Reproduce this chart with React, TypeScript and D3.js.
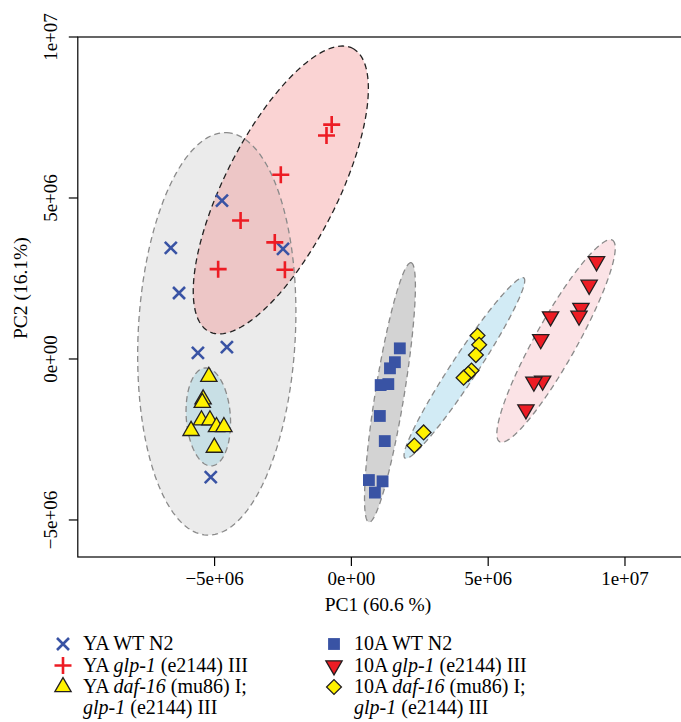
import * as d3 from 'd3';
import React from 'react';

const W = 681;
const H = 722;

// PCA scores, [PC1, PC2]
const yaWtN2 = [[-4.73e6, 4.92e6], [-6.6e6, 3.45e6], [-2.5e6, 3.42e6], [-6.3e6, 2.05e6], [-4.55e6, 0.37e6], [-5.61e6, 0.19e6], [-5.14e6, -3.67e6]];
const yaGlp1 = [[-0.72e6, 7.28e6], [-0.91e6, 6.94e6], [-2.58e6, 5.72e6], [-4.05e6, 4.3e6], [-2.8e6, 3.62e6], [-4.87e6, 2.79e6], [-2.43e6, 2.77e6]];
const yaDaf16 = [[-5.21e6, -0.55e6], [-5.42e6, -1.25e6], [-5.45e6, -1.36e6], [-5.48e6, -1.9e6], [-5.17e6, -1.9e6], [-4.93e6, -2.11e6], [-4.66e6, -2.11e6], [-5.86e6, -2.23e6], [-5.01e6, -2.75e6]];
const tenAWtN2 = [[1.77e6, 0.33e6], [1.59e6, -0.1e6], [1.41e6, -0.29e6], [1.35e6, -0.78e6], [1.07e6, -0.81e6], [1.04e6, -1.77e6], [1.22e6, -2.55e6], [0.64e6, -3.76e6], [1.14e6, -3.8e6], [0.86e6, -4.15e6]];
const tenAGlp1 = [[8.96e6, 3.03e6], [8.69e6, 2.3e6], [8.39e6, 1.58e6], [8.32e6, 1.34e6], [7.28e6, 1.32e6], [6.92e6, 0.61e6], [6.99e6, -0.68e6], [6.67e6, -0.71e6], [6.38e6, -1.57e6]];
const tenADaf16 = [[4.61e6, 0.73e6], [4.67e6, 0.44e6], [4.55e6, 0.12e6], [4.39e6, -0.36e6], [4.27e6, -0.46e6], [4.1e6, -0.58e6], [2.64e6, -2.28e6], [2.3e6, -2.69e6]];

// group ellipses: centre, half major axis vector, minor/major ratio
const ellipses = [
  { group: 'yaWt', cx: -4.92e6, cy: 0.78e6, ax: 0.365e6, ay: 6.25e6, ratio: 0.39 },
  { group: 'yaGlp', cx: -2.58e6, cy: 5.25e6, ax: 2.62e6, ay: 4.4e6, ratio: 0.355 },
  { group: 'yaDaf', cx: -5.23e6, cy: -1.8e6, ax: -0.12e6, ay: 1.52e6, ratio: 0.45 },
  { group: 'tenWt', cx: 1.41e6, cy: -1.04e6, ax: 0.77e6, ay: 4.03e6, ratio: 0.11 },
  { group: 'tenDaf', cx: 4.13e6, cy: -0.28e6, ax: 2.17e6, ay: 2.8e6, ratio: 0.12 },
  { group: 'tenGlp', cx: 7.48e6, cy: 0.56e6, ax: 2.06e6, ay: 3.13e6, ratio: 0.18 },
];

const xTicks = [-5e6, 0, 5e6, 1e7];
const yTicks = [-5e6, 0, 5e6, 1e7];
const tickLabels = ['\u22125e+06', '0e+00', '5e+06', '1e+07'];

const ellipseStyle = {
  yaWt: { fill: '#ebebeb', opacity: 1, stroke: '#8a8a8a' },
  yaGlp: { fill: '#f08080', opacity: 0.35, stroke: '#222' },
  yaDaf: { fill: '#c8dfe5', opacity: 1, stroke: '#8a8a8a' },
  tenWt: { fill: '#d3d3d3', opacity: 1, stroke: '#8a8a8a' },
  tenDaf: { fill: '#d2ebf5', opacity: 1, stroke: '#8a8a8a' },
  tenGlp: { fill: '#fbe3e6', opacity: 1, stroke: '#8a8a8a' },
};

const BLUE = '#3953a4';
const RED = '#ed1c24';
const YELLOW = '#fff200';
const DARK = '#231f20';

const x = d3.scaleLinear().domain([-1.0e7, 1.2e7]).range([77.8, 679.7]);
const y = d3.scaleLinear().domain([-6.15e6, 1.0e7]).range([557, 37]);

function ellipsePath(e) {
  const c = [x(e.cx), y(e.cy)];
  const u = [x(e.cx + e.ax) - c[0], y(e.cy + e.ay) - c[1]];
  const v = [-u[1] * e.ratio, u[0] * e.ratio];
  const pts = d3.range(0, 2 * Math.PI, Math.PI / 90).map(t => [
    c[0] + u[0] * Math.cos(t) + v[0] * Math.sin(t),
    c[1] + u[1] * Math.cos(t) + v[1] * Math.sin(t),
  ]);
  return d3.line().curve(d3.curveLinearClosed)(pts);
}

const triPath = d3.symbol(d3.symbolTriangle, 115)();
const squarePath = d3.symbol(d3.symbolSquare, 140)();
const diamondPath = d3.symbol(d3.symbolSquare, 110)();

function Marker({ kind, cx, cy }) {
  const t = `translate(${cx},${cy})`;
  if (kind === 'x') return <path transform={t} d="M-6,-6L6,6M-6,6L6,-6" stroke={BLUE} strokeWidth={2.6} fill="none" />;
  if (kind === 'plus') return <path transform={t} d="M-8.5,0H8.5M0,-8.5V8.5" stroke={RED} strokeWidth={2.6} fill="none" />;
  if (kind === 'tri') return <path transform={t} d={triPath} fill={YELLOW} stroke={DARK} strokeWidth={1.3} />;
  if (kind === 'square') return <path transform={t} d={squarePath} fill={BLUE} />;
  if (kind === 'down') return <path transform={`${t} rotate(180)`} d={triPath} fill={RED} stroke={DARK} strokeWidth={1.3} />;
  return <path transform={`${t} rotate(45)`} d={diamondPath} fill={YELLOW} stroke={DARK} strokeWidth={1.3} />;
}

const series = [
  { kind: 'x', data: yaWtN2 },
  { kind: 'plus', data: yaGlp1 },
  { kind: 'tri', data: yaDaf16 },
  { kind: 'square', data: tenAWtN2 },
  { kind: 'diamond', data: tenADaf16 },
  { kind: 'down', data: tenAGlp1 },
];

const legend = [
  { kind: 'x', col: 0, row: 0, parts: [['YA WT N2', false]] },
  { kind: 'plus', col: 0, row: 1, parts: [['YA ', false], ['glp-1', true], [' (e2144) III', false]] },
  { kind: 'tri', col: 0, row: 2, parts: [['YA ', false], ['daf-16', true], [' (mu86) I;', false]] },
  { kind: 'square', col: 1, row: 0, parts: [['10A WT N2', false]] },
  { kind: 'down', col: 1, row: 1, parts: [['10A ', false], ['glp-1', true], [' (e2144) III', false]] },
  { kind: 'diamond', col: 1, row: 2, parts: [['10A ', false], ['daf-16', true], [' (mu86) I;', false]] },
];
const legendX = [63, 334];
const legendRowY = [644, 665.5, 687, 708];
const FONT = '"Liberation Serif", "DejaVu Serif", serif';

export default function App() {
  return (
    <svg width={W} height={H} style={{ position: 'absolute', left: 0, top: 0, background: '#fff' }} fontFamily={FONT}>
      <rect width={W} height={H} fill="#fff" />
      {ellipses.map(e => (
        <path key={'f' + e.group} d={ellipsePath(e)} fill={ellipseStyle[e.group].fill} fillOpacity={ellipseStyle[e.group].opacity} />
      ))}
      {ellipses.map(e => (
        <path key={'s' + e.group} d={ellipsePath(e)} fill="none" stroke={ellipseStyle[e.group].stroke} strokeWidth={1.3} strokeDasharray="6,4" />
      ))}
      {series.map(s => s.data.map((d, i) => (
        <Marker key={s.kind + i} kind={s.kind} cx={x(d[0])} cy={y(d[1])} />
      )))}

      {/* axes frame */}
      <rect x={x.range()[0]} y={y.range()[1]} width={700} height={y.range()[0] - y.range()[1]} fill="none" stroke="#000" strokeWidth={1.2} />
      {xTicks.map((t, i) => (
        <g key={'xt' + t}>
          <line x1={x(t)} x2={x(t)} y1={557} y2={566} stroke="#000" strokeWidth={1.2} />
          <text x={x(t)} y={585} textAnchor="middle" fontSize={19}>{tickLabels[i]}</text>
        </g>
      ))}
      {yTicks.map((t, i) => (
        <g key={'yt' + t}>
          <line x1={68.8} x2={77.8} y1={y(t)} y2={y(t)} stroke="#000" strokeWidth={1.2} />
          <text transform={`translate(57,${y(t)}) rotate(-90)`} textAnchor="middle" fontSize={19}>{tickLabels[i]}</text>
        </g>
      ))}
      <text x={378} y={611} textAnchor="middle" fontSize={19.5}>PC1 (60.6 %)</text>
      <text transform={`translate(27,${y(2.2e6)}) rotate(-90)`} textAnchor="middle" fontSize={19.5}>PC2 (16.1%)</text>

      {/* legend */}
      {legend.map(l => (
        <g key={'lg' + l.kind}>
          <Marker kind={l.kind} cx={legendX[l.col]} cy={legendRowY[l.row]} />
          <text x={legendX[l.col] + 20} y={legendRowY[l.row] + 6} fontSize={20}>
            {l.parts.map((p, j) => <tspan key={j} fontStyle={p[1] ? 'italic' : 'normal'}>{p[0]}</tspan>)}
          </text>
          {l.row === 2 && (
            <text x={legendX[l.col] + 20} y={legendRowY[3] + 6} fontSize={20}>
              <tspan fontStyle="italic">glp-1</tspan> (e2144) III
            </text>
          )}
        </g>
      ))}
    </svg>
  );
}
